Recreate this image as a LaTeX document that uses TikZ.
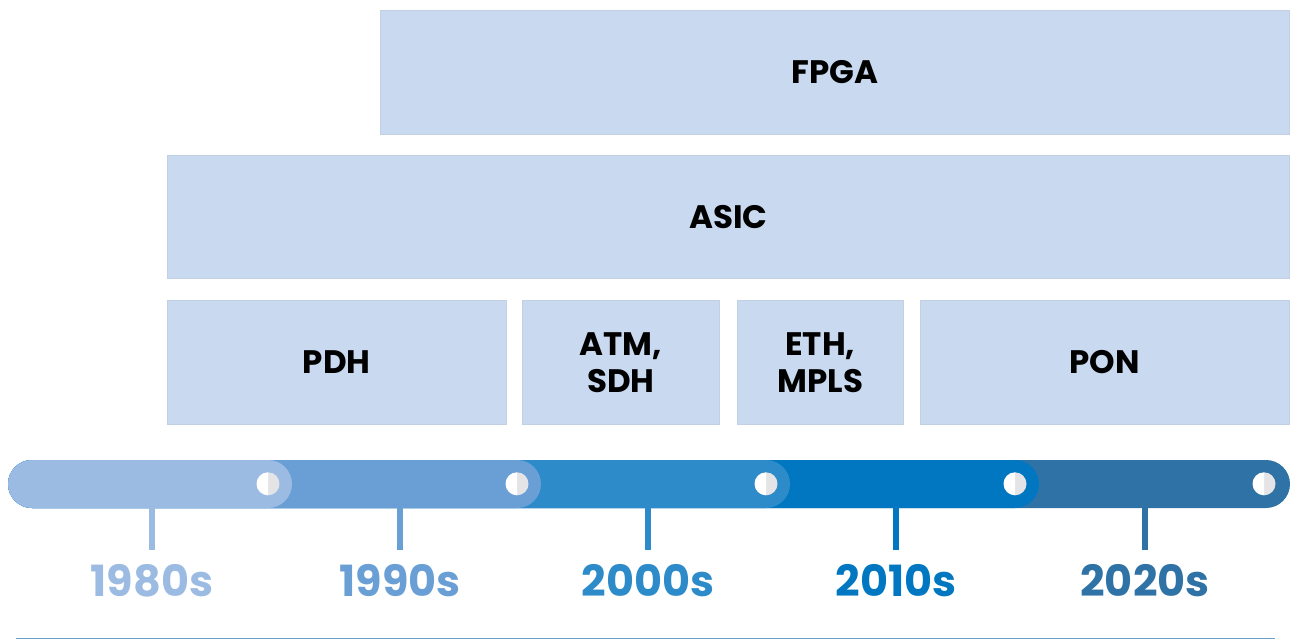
\documentclass[tikz,border=0pt]{standalone}
\usepackage{fontspec}
\setmainfont{Poppins}
\definecolor{boxfill}{HTML}{C9D9EF}
\definecolor{cA}{HTML}{9BBBE3}
\definecolor{cB}{HTML}{6A9FD5}
\definecolor{cC}{HTML}{2E8BCA}
\definecolor{cD}{HTML}{0077C0}
\definecolor{cE}{HTML}{2F72A5}
\definecolor{dotgray}{HTML}{E4E4E6}
\definecolor{ruleblue}{HTML}{6A9FCB}
\begin{document}
\begin{tikzpicture}[x=1pt,y=1pt,
  box/.style={fill=boxfill, draw=boxfill!90!gray, line width=0.6pt, inner sep=0pt, anchor=north west,
    font=\fontsize{32.5}{37}\selectfont\bfseries, align=center, text=black},
  yearlbl/.style={font=\fontsize{43}{50}\selectfont\bfseries, inner sep=0pt, anchor=base},
  tick/.style={line width=5.5pt},
  dotnode/.style={circle, minimum size=23pt, inner sep=0pt}
]
\useasboundingbox (0,0) rectangle (1293,-640);

% boxes
\node[box, minimum width=909pt, minimum height=124pt] (fpga) at (380,-10) {FPGA};
\node[box, minimum width=1122pt, minimum height=123pt] (asic) at (167,-155) {ASIC};
\node[box, minimum width=339pt, minimum height=124pt] (pdh) at (167,-300) {PDH};
\node[box, minimum width=197pt, minimum height=124pt] (atm) at (522,-300) {ATM,\\SDH};
\node[box, minimum width=166pt, minimum height=124pt] (eth) at (737,-300) {ETH,\\MPLS};
\node[box, minimum width=369pt, minimum height=124pt] (pon) at (920,-300) {PON};

% timeline segments (drawn right to left so earlier overlap later)
\fill[cE, rounded corners=24pt] (8,-460) rectangle (1290,-508);
\fill[cD, rounded corners=24pt] (8,-460) rectangle (1039,-508);
\fill[cC, rounded corners=24pt] (8,-460) rectangle (790,-508);
\fill[cB, rounded corners=24pt] (8,-460) rectangle (541,-508);
\fill[cA, rounded corners=24pt] (8,-460) rectangle (292,-508);

% dots
\foreach \n/\x in {d1/268, d2/517, d3/766, d4/1015, d5/1264}{
  \node[dotnode] (\n) at (\x,-484) {};
  \fill[dotgray] (\n.north) arc[start angle=90, end angle=-90, radius=11.5pt] -- cycle;
  \fill[white] (\n.north) arc[start angle=90, end angle=270, radius=11.5pt] -- cycle;
}

% year labels and ticks
\foreach \n/\x/\c/\t in {y1/152/cA/1980s, y2/400/cB/1990s, y3/648/cC/2000s, y4/896/cD/2010s, y5/1145/cE/2020s}{
  \node[yearlbl, text=\c] (\n) at (\x,-596) {\t};
  \coordinate (\n top) at (\x,-508);
  \draw[tick, \c] (\n top) -- (\x,-550);
}

% bottom rule
\coordinate (bl) at (16,-638.5);
\coordinate (br) at (1275,-638.5);
\draw[draw=ruleblue, line width=1.3pt] (bl) -- (br);
\end{tikzpicture}
\end{document}
